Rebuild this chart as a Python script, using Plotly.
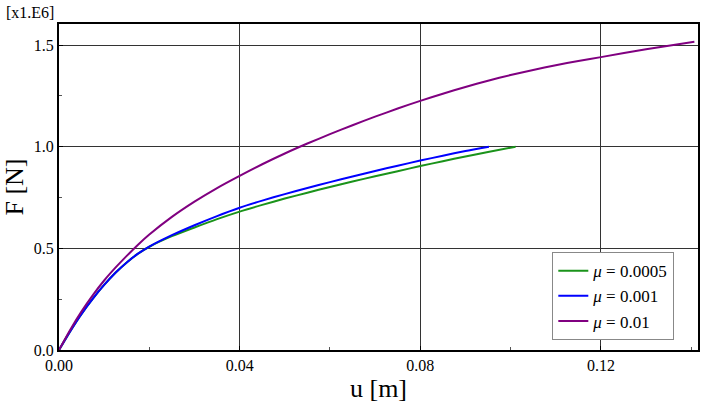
import plotly.graph_objects as go

u_green = [0, 0.0025, 0.005, 0.0075, 0.01, 0.0125, 0.015, 0.0175, 0.02, 0.025, 0.03, 0.035, 0.04, 0.045, 0.05,
           0.055, 0.06, 0.065, 0.07, 0.075, 0.08, 0.085, 0.09, 0.095, 0.1011]
F_green = [0, 0.093, 0.178, 0.253, 0.320, 0.380, 0.431, 0.474, 0.508, 0.560, 0.603, 0.644, 0.681, 0.714, 0.745,
           0.774, 0.802, 0.829, 0.855, 0.880, 0.905, 0.929, 0.952, 0.974, 1.0]

u_blue = [0, 0.0025, 0.005, 0.0075, 0.01, 0.0125, 0.015, 0.0175, 0.02, 0.025, 0.03, 0.035, 0.04, 0.045, 0.05,
          0.055, 0.06, 0.065, 0.07, 0.075, 0.08, 0.085, 0.09, 0.0952]
F_blue = [0, 0.093, 0.178, 0.253, 0.320, 0.380, 0.431, 0.474, 0.509, 0.565, 0.614, 0.659, 0.700, 0.735, 0.767,
          0.797, 0.826, 0.854, 0.881, 0.907, 0.932, 0.956, 0.979, 1.0]

u_purple = [0, 0.0025, 0.005, 0.0075, 0.01, 0.0125, 0.015, 0.0175, 0.02, 0.025, 0.03, 0.035, 0.04, 0.045, 0.05,
            0.055, 0.06, 0.065, 0.07, 0.075, 0.08, 0.085, 0.09, 0.095, 0.10, 0.105, 0.11, 0.115, 0.12, 0.13, 0.1407]
F_purple = [0, 0.100, 0.190, 0.270, 0.342, 0.405, 0.463, 0.518, 0.568, 0.655, 0.730, 0.797, 0.857, 0.914, 0.967,
            1.016, 1.062, 1.106, 1.148, 1.188, 1.226, 1.261, 1.294, 1.325, 1.353, 1.378, 1.401, 1.422, 1.441, 1.480, 1.517]

names = ["<i>μ</i> = 0.0005", "<i>μ</i> = 0.001", "<i>μ</i> = 0.01"]
colors = ["#1a931a", "#0000ff", "#800080"]

font_family = "Liberation Serif"

fig = go.Figure()
for u, F, n, c in [(u_green, F_green, names[0], colors[0]),
                   (u_blue, F_blue, names[1], colors[1]),
                   (u_purple, F_purple, names[2], colors[2])]:
    fig.add_trace(go.Scatter(x=u, y=F, mode="lines", name=n,
                             line=dict(color=c, width=2, shape="spline", smoothing=0.6)))

axis_common = dict(
    showline=True, linecolor="black", linewidth=2, mirror=True,
    showgrid=True, gridcolor="#333333", gridwidth=1,
    zeroline=False, ticks="inside", ticklen=4, tickcolor="black",
)

fig.update_xaxes(
    range=[0, 0.1415], tickvals=[0, 0.04, 0.08, 0.12],
    ticktext=["0.00", "0.04", "0.08", "0.12"],
    tickfont=dict(family=font_family, size=16, color="black"),
    minor=dict(dtick=0.02, ticks="inside", ticklen=3, tickcolor="#555", showgrid=False),
    title=dict(text="u [m]", font=dict(family=font_family, size=26, color="black"), standoff=2),
    **axis_common,
)
fig.update_yaxes(
    range=[0, 1.604], tickvals=[0, 0.5, 1.0, 1.5],
    ticktext=["0.0", "0.5", "1.0", "1.5"],
    tickfont=dict(family=font_family, size=16, color="black"),
    minor=dict(dtick=0.25, ticks="inside", ticklen=3, tickcolor="#555", showgrid=False),
    title=dict(text="F [N]", font=dict(family=font_family, size=26, color="black"), standoff=6),
    **axis_common,
)

fig.add_annotation(text="[x1.E6]", xref="paper", yref="paper", x=-0.005, y=1.0,
                   xanchor="right", yanchor="bottom", showarrow=False, yshift=1,
                   font=dict(family=font_family, size=16, color="black"))

fig.update_layout(
    width=710, height=404,
    font=dict(family=font_family, color="black"),
    margin=dict(l=58, r=10, t=24, b=48),
    paper_bgcolor="white", plot_bgcolor="white",
    showlegend=True,
    legend=dict(x=0.772, y=0.3, xanchor="left", yanchor="top",
                bgcolor="white", bordercolor="#888", borderwidth=1,
                font=dict(family=font_family, size=17, color="black"),
                itemwidth=30, tracegroupgap=0),
)

fig.write_html("out.html")
